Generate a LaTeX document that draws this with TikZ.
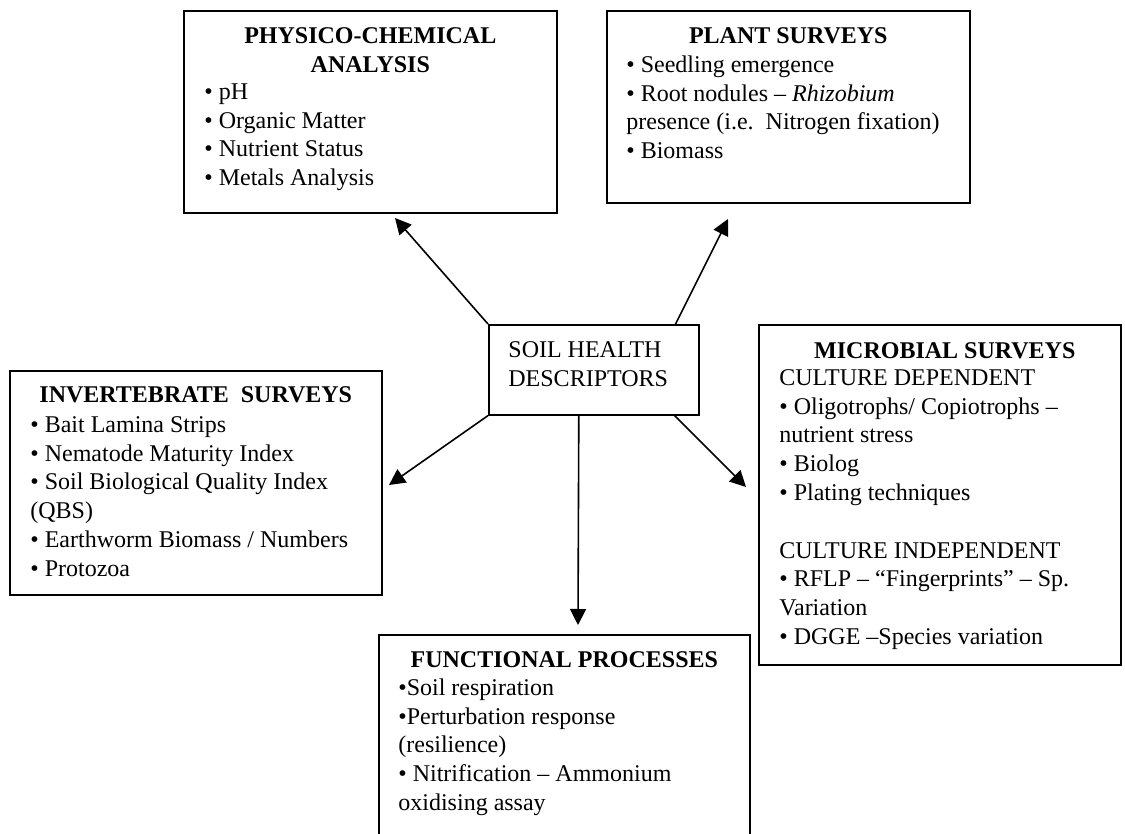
\documentclass[tikz,border=0pt]{standalone}
\usepackage{fontspec}
\setmainfont{Liberation Serif}
\usetikzlibrary{calc,arrows.meta}
\tikzstyle{panel} = [draw, line width=.8pt, anchor=north west, inner sep=0pt]
\tikzstyle{paneltitle} = [anchor=north, inner sep=0pt, align=center, font=\fontsize{12pt}{14.4pt}\selectfont\bfseries]
\tikzstyle{panelbody} = [anchor=north west, inner sep=0pt, align=left]
\tikzstyle{link} = [line width=.8pt, -{Triangle[length=8pt,width=8pt]}]

\begin{document}
\begin{tikzpicture}[x=.5pt, y=-.5pt, font=\fontsize{12pt}{14.4pt}\selectfont]
    \clip (0,0) rectangle (1125,834);
    % boxes
    \node[panel, minimum width=105pt, minimum height=45pt] (desc) at (488,324) {};
    \node[panel, minimum width=186.5pt, minimum height=101pt] (phys) at (183,10) {};
    \node[panel, minimum width=181.5pt, minimum height=96pt] (plant) at (606,10) {};
    \node[panel, minimum width=186pt, minimum height=112pt] (inv) at (9,370) {};
    \node[panel, minimum width=181pt, minimum height=170pt] (micro) at (758,324) {};
    \node[panel, minimum width=185.5pt, minimum height=110pt] (func) at (378,634) {};

    \node[panelbody] (descText) at ($(desc.north west)+(20,12.8)$) {\strut SOIL HEALTH\\DESCRIPTORS};

    \node[paneltitle] (physTitle) at ($(phys.north)+(0,12.8)$) {\strut PHYSICO-CHEMICAL\\ANALYSIS};
    \node[panelbody] (physBody) at ($(phys.north west)+(21,68.8)$) {\strut • pH\\• Organic Matter\\• Nutrient Status\\• Metals Analysis};

    \node[paneltitle] (plantTitle) at ($(plant.north)+(0,12.8)$) {\strut PLANT SURVEYS};
    \node[panelbody] (plantBody) at ($(plant.north west)+(20,41.8)$) {\strut • Seedling emergence\\• Root nodules – \textit{Rhizobium}\\presence (i.e.\ \ Nitrogen fixation)\\• Biomass};

    \node[paneltitle] (invTitle) at ($(inv.north)+(0,11.8)$) {\strut INVERTEBRATE\ \ SURVEYS};
    \node[panelbody] (invBody) at ($(inv.north west)+(21,41.8)$) {\strut • Bait Lamina Strips\\• Nematode Maturity Index\\• Soil Biological Quality Index\\(QBS)\\• Earthworm Biomass / Numbers\\• Protozoa};

    \node[paneltitle] (microTitle) at ($(micro.north)+(5,13.8)$) {\strut MICROBIAL SURVEYS};
    \node[panelbody] (microBody) at ($(micro.north west)+(21,40.8)$) {\strut CULTURE DEPENDENT\\• Oligotrophs/ Copiotrophs –\\nutrient stress\\• Biolog\\• Plating techniques\\[14.4pt]CULTURE INDEPENDENT\\• RFLP – “Fingerprints” – Sp.\\Variation\\• DGGE –Species variation};

    \node[paneltitle] (funcTitle) at ($(func.north)+(0,12.8)$) {\strut FUNCTIONAL PROCESSES};
    \node[panelbody] (funcBody) at ($(func.north west)+(20,40.8)$) {\strut •Soil respiration\\•Perturbation response\\(resilience)\\• Nitrification – Ammonium\\oxidising assay};

    % arrows
    \coordinate (physTip) at (395,218);
    \coordinate (plantTip) at (728,219);
    \coordinate (invTip) at (389,485);
    \coordinate (microTip) at (746,487);
    \coordinate (funcTip) at (578,625);
    \draw[link] (desc.north west) -- (physTip);
    \draw[link] ($(desc.north east)+(-24,0)$) -- (plantTip);
    \draw[link] (desc.south west) -- (invTip);
    \draw[link] ($(desc.south east)+(-25,0)$) -- (microTip);
    \draw[link] ($(desc.south)+(-15,0)$) -- (funcTip);
\end{tikzpicture}
\end{document}
